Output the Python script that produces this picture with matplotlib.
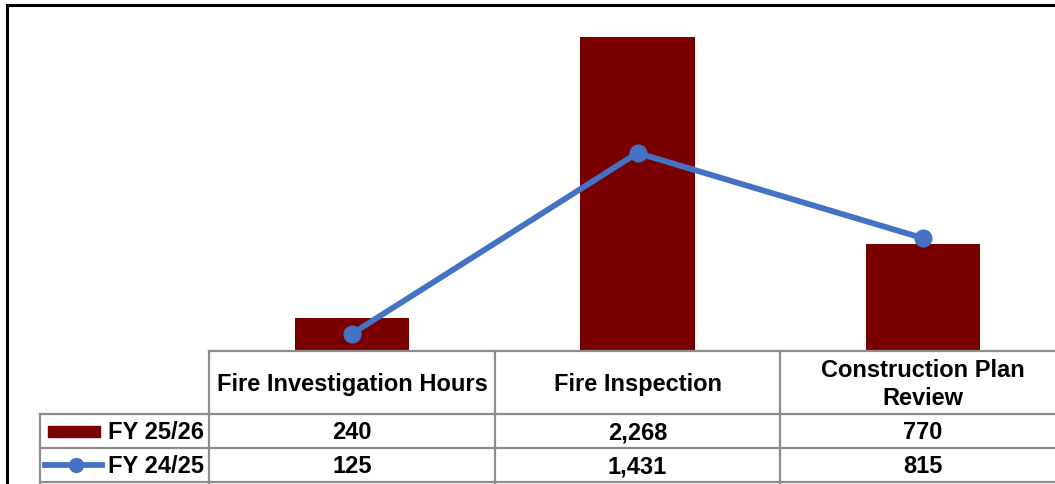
import matplotlib.pyplot as plt
from matplotlib.patches import Rectangle
from matplotlib.lines import Line2D

plt.rcParams['font.family'] = ['Liberation Sans', 'DejaVu Sans']

categories = ['Fire Investigation Hours', 'Fire Inspection', 'Construction Plan\nReview']
series_names = ['FY 25/26', 'FY 24/25']
fy2526 = [240, 2268, 770]
fy2425 = [125, 1431, 815]

bar_color = '#7a0000'
line_color = '#4472c4'
grid_color = '#8c8c8c'

W, H = 1055, 485
fig = plt.figure(figsize=(W / 100, H / 100), dpi=100)

# layout in pixels (from top-left)
left_px = 209.25
col_w = 285.5
base_px = 352
top_px = 6
hdr_bot = 415
row1_bot = 449
row2_bot = 483
lab_left = 40

ax = fig.add_axes([left_px / W, (H - base_px) / H, 3 * col_w / W, (base_px - top_px) / H])
x = range(len(categories))
ax.bar(x, fy2526, width=0.4, color=bar_color, zorder=2)
ax.plot(x, fy2425, color=line_color, lw=4.2, marker='o', ms=12, zorder=3)
ax.set_xlim(-0.5, 2.5)
ax.set_ylim(0, 2500)
ax.axis('off')

# overlay in pixel coordinates for the data table and chart border
ov = fig.add_axes([0, 0, 1, 1], zorder=5)
ov.set_xlim(0, W)
ov.set_ylim(H, 0)
ov.axis('off')
ov.patch.set_alpha(0)

lw = 1.6
x_right = left_px + 3 * col_w
ov.plot([left_px, x_right], [base_px, base_px], color=grid_color, lw=lw)
for yy in (hdr_bot, row1_bot, row2_bot):
    ov.plot([lab_left, x_right], [yy, yy], color=grid_color, lw=lw)
for i in range(4):
    xx = left_px + i * col_w
    ov.plot([xx, xx], [base_px, H], color=grid_color, lw=lw)
ov.plot([lab_left, lab_left], [hdr_bot, H], color=grid_color, lw=lw)

fs = 17
for i, cat in enumerate(categories):
    cx = left_px + col_w * (i + 0.5)
    ov.text(cx, (base_px + hdr_bot) / 2 + 1, cat, ha='center', va='center',
            fontsize=fs, fontweight='bold', linespacing=1.25)
    ov.text(cx, (hdr_bot + row1_bot) / 2 + 1, f'{fy2526[i]:,}', ha='center', va='center',
            fontsize=fs, fontweight='bold')
    ov.text(cx, (row1_bot + row2_bot) / 2 + 1, f'{fy2425[i]:,}', ha='center', va='center',
            fontsize=fs, fontweight='bold')

# row labels with legend keys
y1 = (hdr_bot + row1_bot) / 2
y2 = (row1_bot + row2_bot) / 2
ov.add_patch(Rectangle((48, y1 - 5), 52, 11, color=bar_color))
ov.add_line(Line2D([45, 102], [y2, y2], color=line_color, lw=4.2))
ov.plot([76], [y2], marker='o', ms=10, color=line_color)
ov.text(204, y1 + 1, series_names[0], ha='right', va='center', fontsize=fs, fontweight='bold')
ov.text(204, y2 + 1, series_names[1], ha='right', va='center', fontsize=fs, fontweight='bold')

# chart area border (left and top visible)
ov.plot([7, 7, W], [H, 6, 6], color='black', lw=2.2, solid_joinstyle='miter')

fig.savefig('out.png', dpi=100)
